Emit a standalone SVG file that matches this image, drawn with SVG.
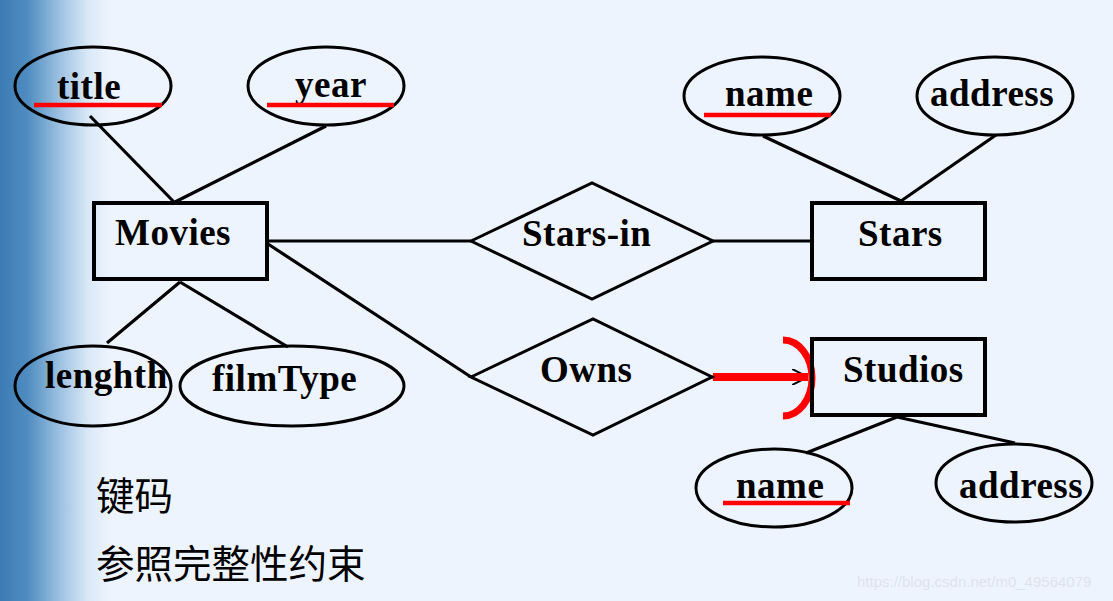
<svg xmlns="http://www.w3.org/2000/svg" width="1113" height="601" viewBox="0 0 1113 601">
  <defs>
    <linearGradient id="strip" x1="0" y1="0" x2="1" y2="0">
      <stop offset="0" stop-color="#3C7BB3"/>
      <stop offset="0.25" stop-color="#4F8CC0"/>
      <stop offset="0.55" stop-color="#9EC2E2"/>
      <stop offset="0.8" stop-color="#D9E8F7"/>
      <stop offset="1" stop-color="#EEF4FE"/>
    </linearGradient>
    <marker id="arrow" viewBox="0 0 16 16" refX="16" refY="8" markerWidth="16" markerHeight="16" markerUnits="userSpaceOnUse" orient="auto">
      <path d="M0,0 L16,8 L0,16" fill="none" stroke="#000" stroke-width="2"/>
    </marker>
    <style>
      .ent { fill: none; stroke: #000; stroke-width: 4; }
      .rel { fill: none; stroke: #000; stroke-width: 3; }
      .attr { fill: none; stroke: #000; stroke-width: 3; }
      .conn { stroke: #000; stroke-width: 3.2; fill: none; }
      .key { stroke: #FF0000; stroke-width: 4.5; }
      .lbl { font-family: "Liberation Serif", "Times New Roman", serif; font-weight: bold; font-size: 37px; fill: #000; letter-spacing: 0.5px; }
      .cn { font-family: "Noto Sans CJK SC", sans-serif; font-size: 38.5px; fill: #000; }
      .wm { font-family: "Liberation Sans", Arial, sans-serif; font-size: 15px; fill: #DDE3EC; }
    </style>
  </defs>

  <rect x="0" y="0" width="1113" height="601" fill="#EEF4FE"/>
  <rect x="0" y="0" width="110" height="601" fill="url(#strip)"/>

  <g id="connectors">
    <line class="conn" x1="90" y1="116" x2="174" y2="202"/>
    <line class="conn" x1="326" y1="126" x2="175" y2="202"/>
    <line class="conn" x1="180" y1="282" x2="107" y2="343"/>
    <line class="conn" x1="180" y1="282" x2="288" y2="347"/>
    <line class="conn" x1="268" y1="241" x2="471" y2="241"/>
    <line class="conn" x1="713" y1="241" x2="810" y2="241"/>
    <line class="conn" x1="268" y1="244" x2="471" y2="377"/>
    <line class="conn" x1="763" y1="136" x2="901" y2="201"/>
    <line class="conn" x1="996" y1="135" x2="901" y2="201"/>
    <line class="conn" x1="897" y1="417" x2="806" y2="453"/>
    <line class="conn" x1="897" y1="417" x2="1015" y2="443"/>
    <line class="conn" x1="712" y1="377" x2="808" y2="377" marker-end="url(#arrow)"/>
    <line x1="713" y1="377" x2="808" y2="377" stroke="#FF0000" stroke-width="8"/>
    <path d="M783,340 A29,38 0 0 1 783,416" fill="none" stroke="#FF0000" stroke-width="7"/>
  </g>

  <g id="movies">
    <rect class="ent" x="94" y="203" width="173" height="76"/>
    <text class="lbl" x="115" y="245">Movies</text>
  </g>

  <g id="stars">
    <rect class="ent" x="812" y="203" width="173" height="76"/>
    <text class="lbl" x="858" y="246">Stars</text>
  </g>

  <g id="studios">
    <rect class="ent" x="812" y="339" width="173" height="76"/>
    <text class="lbl" x="843" y="382">Studios</text>
  </g>

  <g id="stars-in">
    <polygon class="rel" points="471,241 592,183 713,241 592,299"/>
    <text class="lbl" x="522" y="246">Stars-in</text>
  </g>

  <g id="owns">
    <polygon class="rel" points="471,377 593,319 712,377 593,435"/>
    <text class="lbl" x="540" y="382">Owns</text>
  </g>

  <g id="attr-title">
    <ellipse class="attr" cx="93" cy="86" rx="78" ry="39"/>
    <text class="lbl" x="57" y="99">title</text>
    <line class="key" x1="34" y1="105" x2="162" y2="105"/>
  </g>

  <g id="attr-year">
    <ellipse class="attr" cx="326" cy="86" rx="78" ry="39"/>
    <text class="lbl" x="295" y="97">year</text>
    <line class="key" x1="267" y1="105" x2="394" y2="105"/>
  </g>

  <g id="attr-lenghth">
    <ellipse class="attr" cx="93" cy="386" rx="78" ry="40"/>
    <text class="lbl" x="45" y="388">lenghth</text>
  </g>

  <g id="attr-filmType">
    <ellipse class="attr" cx="292" cy="386" rx="112" ry="40"/>
    <text class="lbl" x="212" y="391">filmType</text>
  </g>

  <g id="attr-stars-name">
    <ellipse class="attr" cx="762" cy="96" rx="78" ry="39"/>
    <text class="lbl" x="725" y="106">name</text>
    <line class="key" x1="704" y1="115" x2="831" y2="115"/>
  </g>

  <g id="attr-stars-address">
    <ellipse class="attr" cx="995" cy="96" rx="78" ry="39"/>
    <text class="lbl" x="930" y="106">address</text>
  </g>

  <g id="attr-studios-name">
    <ellipse class="attr" cx="774" cy="488" rx="78" ry="39"/>
    <text class="lbl" x="736" y="498">name</text>
    <line class="key" x1="723" y1="503" x2="850" y2="503"/>
  </g>

  <g id="attr-studios-address">
    <ellipse class="attr" cx="1014" cy="483" rx="78" ry="39"/>
    <text class="lbl" x="959" y="498">address</text>
  </g>

  <g id="notes">
    <text class="cn" x="96" y="510">键码</text>
    <text class="cn" x="96" y="578">参照完整性约束</text>
  </g>

  <text class="wm" x="857" y="587">https://blog.csdn.net/m0_49564079</text>
</svg>
